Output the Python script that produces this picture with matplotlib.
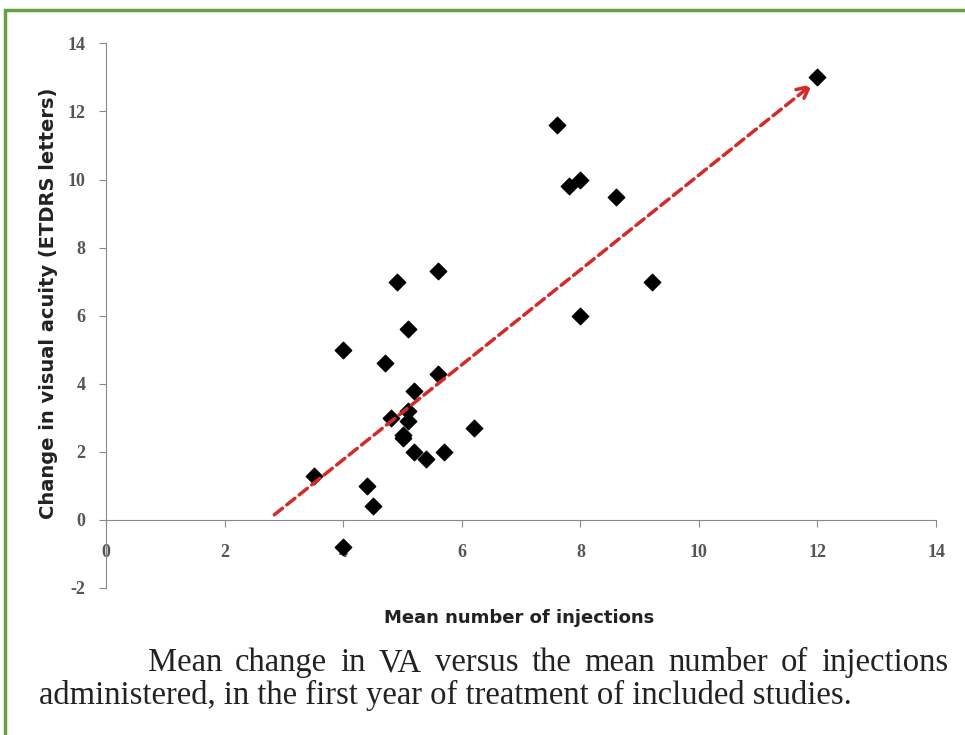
import matplotlib
matplotlib.use('Agg')
import matplotlib.pyplot as plt
from matplotlib.patches import Rectangle

plt.rcParams['axes.unicode_minus'] = False

# Mean number of injections vs mean change in VA
injections = [3.5, 4.0, 4.0, 4.4, 4.5, 4.7, 4.8, 4.9, 5.0, 5.0, 5.1, 5.1, 5.1, 5.2,
              5.2, 5.4, 5.6, 5.6, 5.7, 6.2, 7.6, 7.8, 8.0, 8.0, 8.6, 9.2, 12.0]
va_change = [1.3, 5.0, -0.8, 1.0, 0.4, 4.6, 3.0, 7.0, 2.5, 2.4, 5.6, 3.2, 2.9, 3.8,
             2.0, 1.8, 7.3, 4.3, 2.0, 2.7, 11.6, 9.8, 10.0, 6.0, 9.5, 7.0, 13.0]

# trend arrow (start, end)
arrow_start = (2.8, 0.1)
arrow_end = (11.95, 12.85)

x_ticks = [0, 2, 4, 6, 8, 10, 12, 14]
y_ticks = [-2, 0, 2, 4, 6, 8, 10, 12, 14]

caption_1 = 'Mean change in VA versus the mean number of injections'
caption_2 = 'administered, in the first year of treatment of included studies.'

fig = plt.figure(figsize=(9.65, 7.35), dpi=100)
ax = fig.add_axes([0.110, 0.200, 0.860, 0.741])

ax.scatter(injections, va_change, marker='D', s=70, color='black', zorder=3)
ax.annotate('', xy=arrow_end, xytext=arrow_start,
            arrowprops=dict(arrowstyle='->', color='#d62a2a', lw=2.5,
                            linestyle=(0, (3, 1.6)), mutation_scale=22))

ax.set_xlim(0, 14)
ax.set_ylim(-2, 14)
ax.set_xticks(x_ticks)
ax.set_yticks(y_ticks)

for s in ['top', 'right']:
    ax.spines[s].set_visible(False)
ax.spines['bottom'].set_position(('data', 0))
ax.spines['bottom'].set_color('#8a8a8a')
ax.spines['left'].set_color('#8a8a8a')
ax.tick_params(axis='x', direction='out', length=5, color='#8a8a8a', pad=12)
ax.tick_params(axis='y', direction='out', length=5, color='#8a8a8a', pad=10)
for lbl in ax.get_xticklabels() + ax.get_yticklabels():
    lbl.set_family('Liberation Serif')
    lbl.set_fontsize(13)
    lbl.set_fontweight('bold')
    lbl.set_color('#555555')

fig.text(0.050, 0.588, 'Change in visual acuity (ETDRS letters)', rotation=90,
         ha='center', va='center', fontsize=14, fontweight='bold',
         family='DejaVu Sans', color='#222222')
fig.text(0.538, 0.159, 'Mean number of injections', ha='center', va='center',
         fontsize=13, fontweight='bold', family='DejaVu Sans', color='#222222')

# caption, first line justified between the indent and the right margin
cap_size = 23.5
renderer = fig.canvas.get_renderer()
words = caption_1.split()
widths = []
for w in words:
    t = fig.text(0, 0, w, fontsize=cap_size, family='Liberation Serif')
    widths.append(t.get_window_extent(renderer).width / fig.bbox.width)
    t.remove()
left, right = 0.153, 0.983
gap = (right - left - sum(widths)) / (len(words) - 1)
x = left
for w, wd in zip(words, widths):
    fig.text(x, 0.098, w, ha='left', va='center', fontsize=cap_size,
             family='Liberation Serif', color='#222222')
    x += wd + gap
fig.text(0.040, 0.054, caption_2, ha='left', va='center', fontsize=cap_size,
         family='Liberation Serif', color='#222222')

# green frame around the panel
fig.patches.append(Rectangle((0.005, -0.02), 1.1, 1.006, transform=fig.transFigure,
                             fill=False, edgecolor='#6aa043', lw=2.5))

fig.savefig('out.png', dpi=100)
